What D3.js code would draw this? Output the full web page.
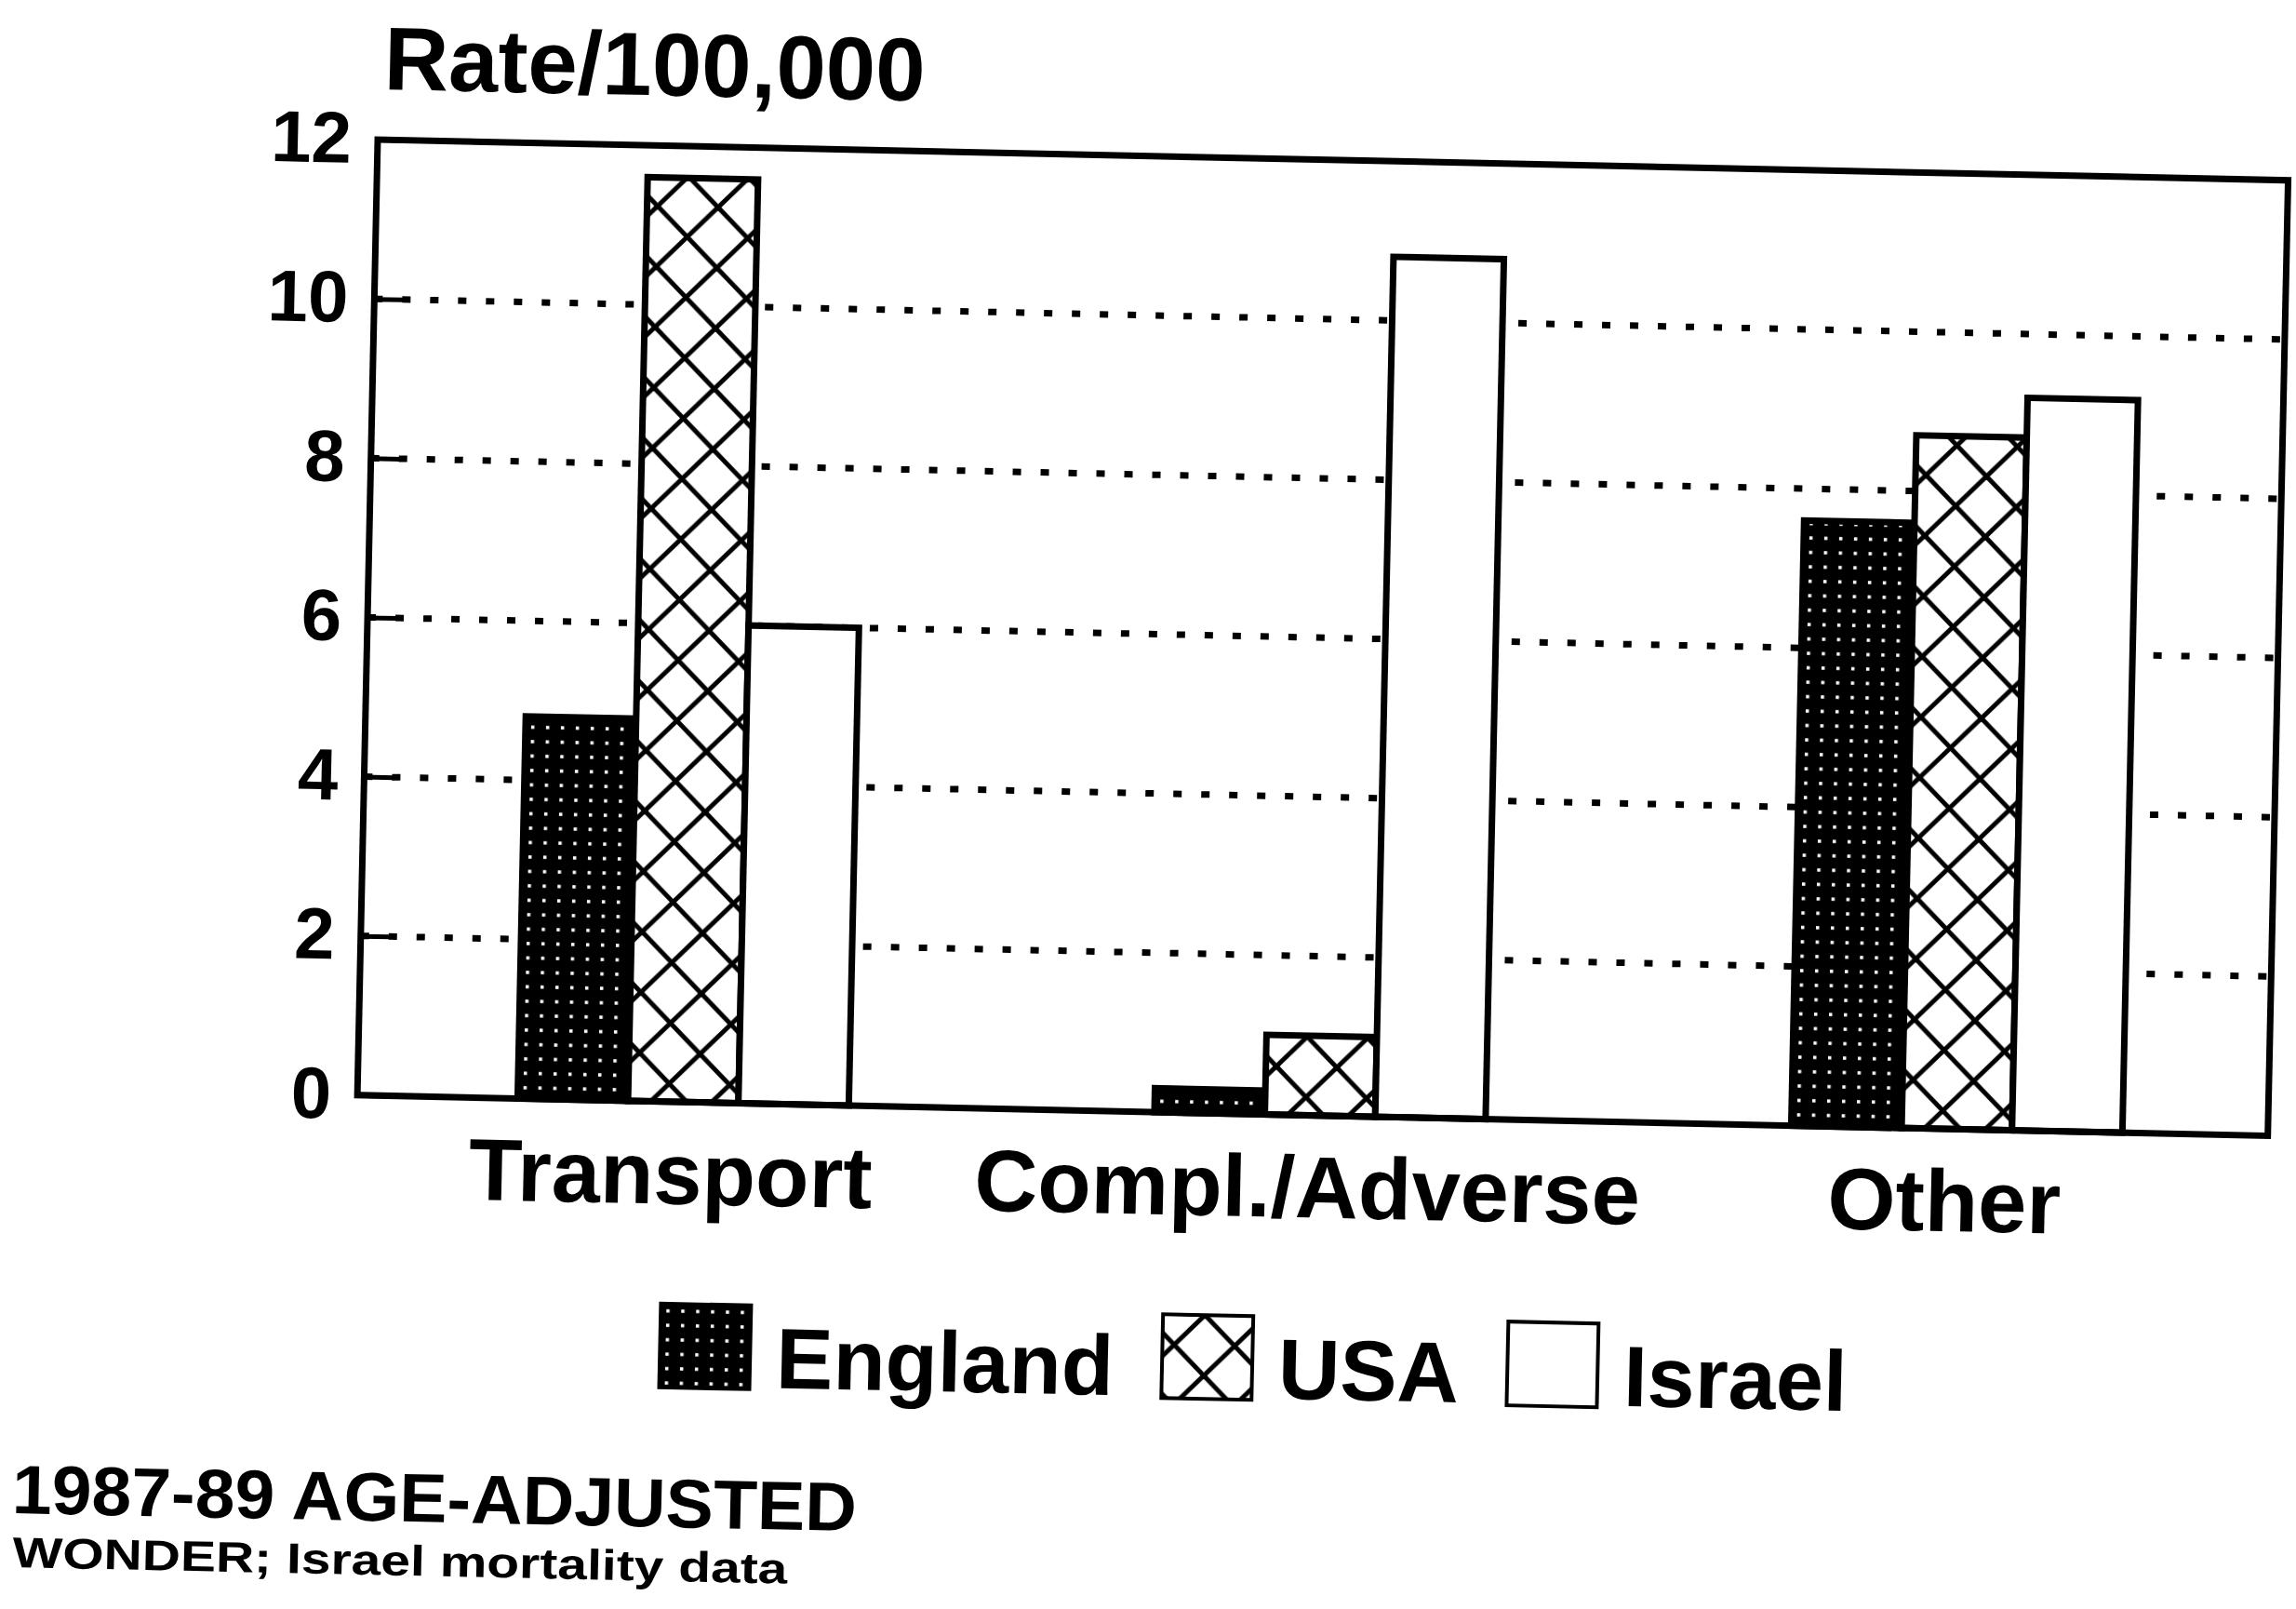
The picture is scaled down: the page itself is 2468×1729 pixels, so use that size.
<!DOCTYPE html>
<html>
<head>
<meta charset="utf-8">
<script src="https://cdn.jsdelivr.net/npm/d3@7"></script>
<style>
  body { margin: 0; background: #fff; }
  text { font-family: "Liberation Sans", Arial, sans-serif; font-weight: bold; fill: #000; }
</style>
</head>
<body>
<div id="chart"></div>
<script>
// values
let categories = ["Transport", "Compl./Adverse", "Other"];
let countries = ["England", "USA", "Israel"];
let england = [4.8, 0.3, 7.6];
let usa = [11.6, 1.0, 8.7];
let israel = [6.0, 10.8, 9.2];
let yTicks = [0, 2, 4, 6, 8, 10, 12];
let gridTicks = [2, 4, 6, 8, 10];
let yTitle = "Rate/100,000";
let footer1 = "1987-89 AGE-ADJUSTED";
let footer2 = "WONDER; Israel mortality data";

let rows = categories.map(function(c, i) {
    return { cat: c, values: [england[i], usa[i], israel[i]] };
});

let margin = { top: 150, left: 406 },
    width = 2054,
    height = 1027;

let svg = d3.select("#chart").append("svg")
    .attr("width", 2468)
    .attr("height", 1729);

svg.append("rect")
    .attr("width", 2468)
    .attr("height", 1729)
    .attr("fill", "#fff");

let defs = svg.append("defs");

// England: black with small white holes
let dots = defs.append("pattern")
    .attr("id", "dots")
    .attr("patternUnits", "userSpaceOnUse")
    .attr("width", 16)
    .attr("height", 15.5);
dots.append("rect").attr("width", 16).attr("height", 15.5).attr("fill", "#000");
dots.append("rect").attr("x", 6).attr("y", 6).attr("width", 3.5).attr("height", 3.5).attr("fill", "#fff");

// USA: diagonal cross hatch
let hatch = defs.append("pattern")
    .attr("id", "hatch")
    .attr("patternUnits", "userSpaceOnUse")
    .attr("width", 65)
    .attr("height", 65);
hatch.append("rect").attr("width", 65).attr("height", 65).attr("fill", "#fff");
[-65, 0, 65].forEach(function(k) {
    hatch.append("line")
        .attr("x1", k).attr("y1", 0).attr("x2", k + 65).attr("y2", 65)
        .attr("stroke", "#000").attr("stroke-width", 5);
});
[0, 65, 130].forEach(function(c) {
    hatch.append("line")
        .attr("x1", c).attr("y1", 0).attr("x2", c - 65).attr("y2", 65)
        .attr("stroke", "#000").attr("stroke-width", 5);
});

let fills = { England: "url(#dots)", USA: "url(#hatch)", Israel: "#fff" };

// the scan is a little tilted, so turn the whole chart with it
let g = svg.append("g")
    .attr("transform", "translate(" + margin.left + "," + margin.top + ") rotate(1.22)");

let x0 = d3.scaleBand()
    .domain(categories)
    .range([8, width + 8])
    .paddingInner(0.48)
    .paddingOuter(0.24);
let x1 = d3.scaleBand()
    .domain(countries)
    .range([0, x0.bandwidth()]);
let y = d3.scaleLinear()
    .domain([0, 12])
    .range([height, 0]);

// dotted grid
g.append("g").selectAll("line")
    .data(gridTicks)
    .enter()
    .append("line")
    .attr("x1", 0)
    .attr("x2", width)
    .attr("y1", function(d) { return y(d); })
    .attr("y2", function(d) { return y(d); })
    .attr("stroke", "#000")
    .attr("stroke-width", 7)
    .attr("stroke-dasharray", "9 21");

// bars
g.append("g").selectAll("g")
    .data(rows)
    .enter()
    .append("g")
    .attr("transform", function(d) { return "translate(" + x0(d.cat) + ",0)"; })
    .selectAll("rect")
    .data(function(d) {
        return d.values.map(function(v, i) { return { key: countries[i], value: v }; });
    })
    .enter()
    .append("rect")
    .attr("x", function(d) { return x1(d.key); })
    .attr("width", x1.bandwidth())
    .attr("y", function(d) { return y(d.value); })
    .attr("height", function(d) { return height - y(d.value); })
    .attr("fill", function(d) { return fills[d.key]; })
    .attr("stroke", "#000")
    .attr("stroke-width", 7);

// plot frame
g.append("rect")
    .attr("width", width)
    .attr("height", height)
    .attr("fill", "none")
    .attr("stroke", "#000")
    .attr("stroke-width", 7);

// y axis
let yAxis = g.append("g")
    .call(d3.axisLeft(y).tickValues(yTicks).tickSize(-32).tickPadding(28));
yAxis.select(".domain").remove();
yAxis.selectAll("line").attr("stroke-width", 5);
yAxis.selectAll("text").style("font-size", "78px");

// x axis labels (sit a little left of the bar groups)
let xAxis = g.append("g")
    .attr("transform", "translate(-12," + height + ")")
    .call(d3.axisBottom(x0).tickSize(0).tickPadding(43));
xAxis.select(".domain").remove();
xAxis.selectAll("text").style("font-size", "94px");

// y title
g.append("text")
    .attr("x", 5)
    .attr("y", -54)
    .style("font-size", "96px")
    .text(yTitle);

// legend
let legend = g.append("g")
    .attr("transform", "translate(331,1244)");
let lx = 0;
countries.forEach(function(c) {
    legend.append("rect")
        .attr("x", lx)
        .attr("width", 97)
        .attr("height", 90)
        .attr("fill", fills[c])
        .attr("stroke", "#000")
        .attr("stroke-width", 4);
    let t = legend.append("text")
        .attr("x", lx + 125)
        .attr("y", 88)
        .style("font-size", "92px")
        .text(c);
    lx += 125 + t.node().getComputedTextLength() + 52;
});

// notes under the chart
g.append("text")
    .attr("x", -362)
    .attr("y", 1484)
    .attr("textLength", 908)
    .attr("lengthAdjust", "spacingAndGlyphs")
    .style("font-size", "74px")
    .text(footer1);

g.append("text")
    .attr("x", -360)
    .attr("y", 1542)
    .attr("textLength", 833)
    .attr("lengthAdjust", "spacingAndGlyphs")
    .style("font-size", "46px")
    .text(footer2);
</script>
</body>
</html>
